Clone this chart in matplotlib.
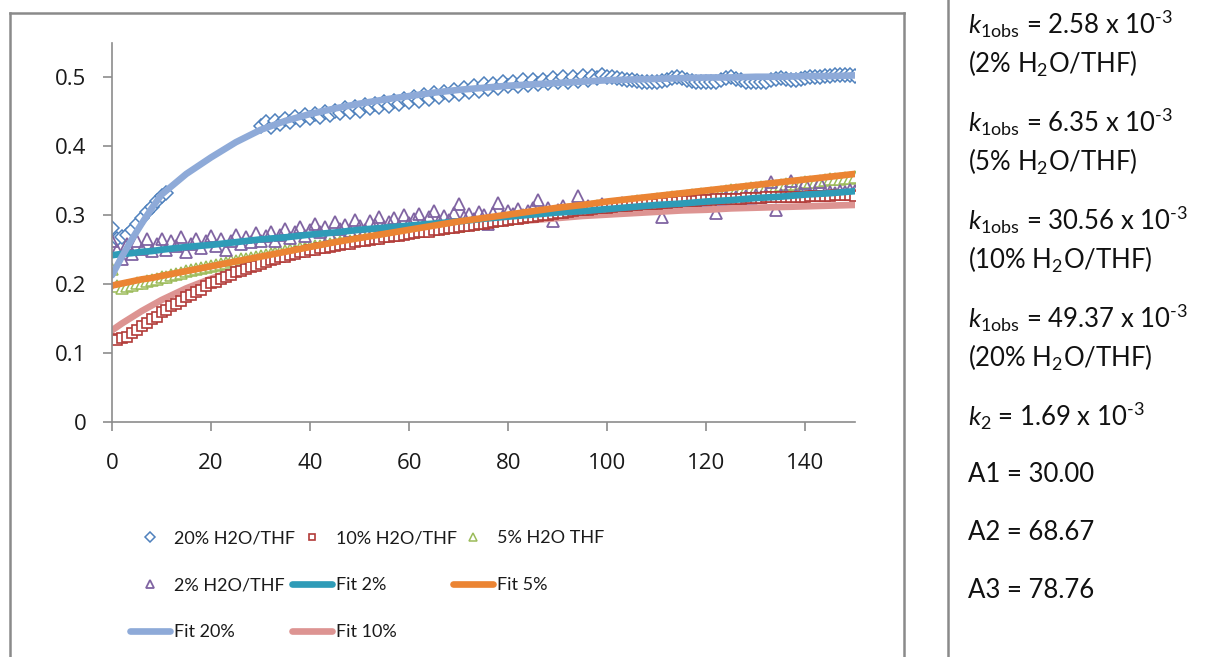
import matplotlib
matplotlib.use("Agg")
import matplotlib.pyplot as plt
from matplotlib.lines import Line2D

# ---------------- data ----------------
x_20 = list(range(0, 12)) + list(range(30, 151))
y_20 = [0.281, 0.266, 0.268, 0.271, 0.279, 0.288, 0.296, 0.305, 0.312, 0.320, 0.328, 0.333,
        0.430, 0.435, 0.428, 0.437, 0.432, 0.440, 0.436, 0.443, 0.438, 0.445, 0.441,
        0.447, 0.443, 0.450, 0.446, 0.452, 0.448, 0.455, 0.450, 0.457, 0.452,
        0.460, 0.455, 0.462, 0.457, 0.465, 0.459, 0.466, 0.461, 0.469, 0.464,
        0.471, 0.466, 0.474, 0.469, 0.477, 0.471, 0.479, 0.474, 0.482, 0.476,
        0.485, 0.479, 0.488, 0.481, 0.490, 0.483, 0.491, 0.485, 0.493, 0.487,
        0.494, 0.488, 0.496, 0.489, 0.497, 0.490, 0.497, 0.492, 0.499, 0.493,
        0.500, 0.494, 0.501, 0.495, 0.502, 0.497, 0.502, 0.499, 0.503, 0.501,
        0.500, 0.499, 0.498, 0.497, 0.496, 0.495, 0.494, 0.494, 0.494, 0.494,
        0.495, 0.497, 0.499, 0.500, 0.499, 0.497, 0.495, 0.494, 0.493, 0.493,
        0.493, 0.494, 0.496, 0.499, 0.500, 0.498, 0.496, 0.494, 0.493, 0.493,
        0.493, 0.494, 0.496, 0.498, 0.499, 0.498, 0.497, 0.497, 0.498, 0.499,
        0.500, 0.501, 0.501, 0.502, 0.502, 0.503, 0.503, 0.503, 0.503, 0.502]

x_all = list(range(0, 151))
y_10 = [0.121, 0.119, 0.122, 0.124, 0.129, 0.133, 0.139, 0.143, 0.149, 0.153, 0.159,
        0.163, 0.168, 0.171, 0.176, 0.181, 0.184, 0.189, 0.192, 0.197, 0.201,
        0.203, 0.207, 0.211, 0.213, 0.217, 0.219, 0.222, 0.225, 0.227, 0.230,
        0.232, 0.235, 0.236, 0.239, 0.240, 0.242, 0.244, 0.246, 0.247, 0.249,
        0.250, 0.252, 0.253, 0.254, 0.256, 0.257, 0.258, 0.259, 0.261, 0.262,
        0.263, 0.264, 0.265, 0.266, 0.268, 0.268, 0.270, 0.270, 0.272, 0.273,
        0.274, 0.275, 0.276, 0.276, 0.278, 0.279, 0.280, 0.281, 0.282, 0.283,
        0.284, 0.285, 0.286, 0.287, 0.288, 0.289, 0.290, 0.291, 0.292, 0.293,
        0.294, 0.295, 0.296, 0.297, 0.298, 0.299, 0.300, 0.301, 0.302, 0.303,
        0.304, 0.305, 0.306, 0.307, 0.308, 0.308, 0.309, 0.310, 0.311, 0.311,
        0.312, 0.313, 0.313, 0.314, 0.315, 0.315, 0.316, 0.316, 0.317, 0.317,
        0.318, 0.318, 0.319, 0.319, 0.320, 0.320, 0.321, 0.321, 0.322, 0.322,
        0.322, 0.323, 0.323, 0.323, 0.324, 0.324, 0.324, 0.325, 0.325, 0.325,
        0.325, 0.326, 0.326, 0.326, 0.326, 0.327, 0.327, 0.327, 0.327, 0.327,
        0.328, 0.328, 0.328, 0.328, 0.328, 0.329, 0.329, 0.329, 0.329, 0.328]
y_5 = [0.222, 0.197, 0.195, 0.198, 0.199, 0.201, 0.202, 0.205, 0.206, 0.208, 0.210,
       0.211, 0.214, 0.215, 0.216, 0.219, 0.220, 0.222, 0.223, 0.225, 0.227,
       0.228, 0.230, 0.231, 0.233, 0.234, 0.236, 0.237, 0.238, 0.240, 0.241,
       0.243, 0.244, 0.245, 0.247, 0.248, 0.249, 0.250, 0.252, 0.253, 0.254,
       0.255, 0.256, 0.258, 0.259, 0.260, 0.261, 0.262, 0.263, 0.264, 0.265,
       0.266, 0.267, 0.268, 0.269, 0.270, 0.271, 0.272, 0.273, 0.274, 0.275,
       0.276, 0.277, 0.278, 0.279, 0.280, 0.281, 0.282, 0.283, 0.284, 0.285,
       0.286, 0.287, 0.288, 0.289, 0.290, 0.291, 0.292, 0.293, 0.294, 0.295,
       0.296, 0.297, 0.298, 0.299, 0.300, 0.301, 0.302, 0.303, 0.304, 0.305,
       0.306, 0.307, 0.308, 0.309, 0.310, 0.311, 0.312, 0.313, 0.313, 0.314,
       0.315, 0.316, 0.317, 0.318, 0.319, 0.320, 0.320, 0.321, 0.322, 0.323,
       0.324, 0.325, 0.326, 0.326, 0.327, 0.328, 0.329, 0.330, 0.331, 0.331,
       0.332, 0.333, 0.334, 0.335, 0.336, 0.336, 0.337, 0.338, 0.339, 0.340,
       0.341, 0.341, 0.342, 0.343, 0.344, 0.345, 0.346, 0.346, 0.347, 0.348,
       0.349, 0.349, 0.350, 0.351, 0.352, 0.352, 0.353, 0.354, 0.354, 0.355]
y_2 = [0.262, 0.250, 0.236, 0.258, 0.244, 0.262, 0.251, 0.265, 0.248, 0.258, 0.266,
       0.250, 0.262, 0.255, 0.268, 0.247, 0.259, 0.266, 0.252, 0.263, 0.270,
       0.256, 0.266, 0.249, 0.262, 0.271, 0.258, 0.268, 0.261, 0.274, 0.262,
       0.270, 0.276, 0.263, 0.272, 0.280, 0.267, 0.276, 0.283, 0.270, 0.279,
       0.287, 0.275, 0.283, 0.272, 0.290, 0.280, 0.286, 0.277, 0.293, 0.284,
       0.278, 0.291, 0.286, 0.298, 0.283, 0.290, 0.296, 0.285, 0.300, 0.289,
       0.295, 0.302, 0.288, 0.297, 0.306, 0.292, 0.299, 0.293, 0.304, 0.317,
       0.298, 0.302, 0.295, 0.305, 0.300, 0.287, 0.303, 0.318, 0.299, 0.306,
       0.302, 0.309, 0.300, 0.306, 0.311, 0.322, 0.305, 0.310, 0.292, 0.308,
       0.313, 0.306, 0.311, 0.328, 0.309, 0.314, 0.307, 0.312, 0.316, 0.310,
       0.315, 0.311, 0.318, 0.313, 0.317, 0.314, 0.319, 0.315, 0.320, 0.316,
       0.297, 0.318, 0.321, 0.317, 0.322, 0.319, 0.323, 0.320, 0.324, 0.321,
       0.325, 0.303, 0.324, 0.326, 0.323, 0.327, 0.324, 0.328, 0.325, 0.329,
       0.327, 0.330, 0.348, 0.307, 0.329, 0.331, 0.350, 0.330, 0.332, 0.347,
       0.331, 0.333, 0.348, 0.332, 0.334, 0.333, 0.335, 0.334, 0.336, 0.335]

x_fit = [0, 2, 4, 6, 8, 10, 15, 20, 25, 30, 35, 40, 45, 50, 55, 60, 65, 70, 75, 80,
         85, 90, 95, 100, 105, 110, 115, 120, 125, 130, 135, 140, 145, 150]
fit_2 = [0.242, 0.244, 0.245, 0.247, 0.248, 0.250, 0.254, 0.257, 0.261, 0.265, 0.268,
         0.272, 0.275, 0.279, 0.282, 0.285, 0.288, 0.291, 0.295, 0.298, 0.301, 0.304,
         0.306, 0.309, 0.312, 0.315, 0.317, 0.320, 0.322, 0.325, 0.327, 0.330, 0.332, 0.335]
fit_5 = [0.198, 0.201, 0.204, 0.207, 0.209, 0.212, 0.219, 0.226, 0.233, 0.240, 0.247,
         0.254, 0.261, 0.267, 0.273, 0.279, 0.285, 0.291, 0.296, 0.301, 0.306, 0.311,
         0.315, 0.320, 0.324, 0.328, 0.332, 0.336, 0.340, 0.344, 0.348, 0.352, 0.356, 0.360]
fit_20 = [0.213, 0.240, 0.265, 0.288, 0.310, 0.330, 0.360, 0.384, 0.406, 0.424, 0.437,
          0.447, 0.455, 0.462, 0.468, 0.473, 0.478, 0.482, 0.485, 0.488, 0.490, 0.492,
          0.494, 0.496, 0.497, 0.498, 0.499, 0.500, 0.500, 0.501, 0.501, 0.502, 0.502, 0.503]
fit_10 = [0.133, 0.143, 0.152, 0.161, 0.169, 0.177, 0.194, 0.208, 0.220, 0.230, 0.239,
          0.247, 0.254, 0.261, 0.267, 0.272, 0.277, 0.282, 0.286, 0.290, 0.293, 0.296,
          0.299, 0.301, 0.303, 0.305, 0.307, 0.308, 0.310, 0.311, 0.312, 0.313, 0.314, 0.315]

x_ticks = [0, 20, 40, 60, 80, 100, 120, 140]
y_ticks = [0, 0.1, 0.2, 0.3, 0.4, 0.5]
y_tick_labels = ["0", "0.1", "0.2", "0.3", "0.4", "0.5"]

panel_lines = [
    r"$\mathit{k}_{\mathrm{1obs}}$ = 2.58 x 10$^{\text{-3}}$",
    r"(2% H$_{\mathrm{2}}$O/THF)",
    r"$\mathit{k}_{\mathrm{1obs}}$ = 6.35 x 10$^{\text{-3}}$",
    r"(5% H$_{\mathrm{2}}$O/THF)",
    r"$\mathit{k}_{\mathrm{1obs}}$ = 30.56 x 10$^{\text{-3}}$",
    r"(10% H$_{\mathrm{2}}$O/THF)",
    r"$\mathit{k}_{\mathrm{1obs}}$ = 49.37 x 10$^{\text{-3}}$",
    r"(20% H$_{\mathrm{2}}$O/THF)",
    r"$\mathit{k}_{\mathrm{2}}$ = 1.69 x 10$^{\text{-3}}$",
    "A1 = 30.00",
    "A2 = 68.67",
    "A3 = 78.76",
]
panel_y_px = [24, 64, 122, 162, 220, 260, 318, 358, 416, 475, 533, 590]

# ---------------- style ----------------
plt.rcParams['mathtext.fontset'] = 'custom'
plt.rcParams['mathtext.rm'] = 'Lato'
plt.rcParams['mathtext.it'] = 'Lato:italic'
plt.rcParams['mathtext.default'] = 'rm'

W, H = 1222, 657
fig = plt.figure(figsize=(W / 100, H / 100), dpi=100)
ax = fig.add_axes([112 / W, 1 - 422 / H, (855 - 112) / W, (422 - 43) / H])

c20, c10, c5, c2 = '#4F81BD', '#B23B38', '#9BBB59', '#8064A2'
cf2, cf5, cf20, cf10 = '#2E9BB7', '#EB8433', '#8EAAD8', '#DD9492'

h20, = ax.plot(x_20, y_20, ls='none', marker='D', ms=7, mfc='white', mec=c20, mew=1.1,
               label='20% H2O/THF', zorder=1.9)
h5, = ax.plot(x_all, y_5, ls='none', marker='^', ms=8, mfc='white', mec=c5, mew=1.1,
              label='5% H2O THF', zorder=1.9)
h2, = ax.plot(x_all, y_2, ls='none', marker='^', ms=9, mfc='none', mec=c2, mew=1.3,
              label='2% H2O/THF', zorder=1.9)
lw = 4.8
hf10, = ax.plot(x_fit, fit_10, color=cf10, lw=lw, solid_capstyle='round', label='Fit 10%',
                zorder=2.0)
h10, = ax.plot(x_all, y_10, ls='none', marker='s', ms=7, mfc='white', mec=c10, mew=1.2,
               label='10% H2O/THF', zorder=2.1)
hf2, = ax.plot(x_fit, fit_2, color=cf2, lw=lw, solid_capstyle='round', label='Fit 2%',
               zorder=2.2)
hf5, = ax.plot(x_fit, fit_5, color=cf5, lw=lw, solid_capstyle='round', label='Fit 5%',
               zorder=2.2)
hf20, = ax.plot(x_fit, fit_20, color=cf20, lw=lw, solid_capstyle='round', label='Fit 20%',
                zorder=2.2)

ax.set_xlim(0, 150)
ax.set_ylim(0, 0.55)
ax.set_xticks(x_ticks)
ax.set_xticklabels([str(v) for v in x_ticks])
ax.set_yticks(y_ticks)
ax.set_yticklabels(y_tick_labels)
for s in ['top', 'right']:
    ax.spines[s].set_visible(False)
for s in ['left', 'bottom']:
    ax.spines[s].set_color('#8C8C8C')
    ax.spines[s].set_linewidth(1.2)
ax.tick_params(axis='both', direction='out', length=6.5, width=1.2, color='#8C8C8C',
               labelsize=16, labelcolor='#1A1A1A')
ax.tick_params(axis='y', pad=12)
ax.tick_params(axis='x', pad=16)
for lab in ax.get_xticklabels() + ax.get_yticklabels():
    lab.set_fontfamily('Open Sans')

# legend: three single-column legends placed like the original rows/columns
cols = [([h20, h2, hf20], 130), ([h10, hf2, hf10], 292), ([h5, hf5], 453)]
for hs, xpx in cols:
    lg = fig.legend(handles=hs, labels=[h.get_label() for h in hs], ncol=1,
                    loc='upper left', bbox_to_anchor=(xpx / W, 1 - 530 / H),
                    frameon=False, prop={'family': 'Lato', 'size': 13},
                    handlelength=2.2, handletextpad=0.22, labelspacing=1.72,
                    markerscale=0.7, borderaxespad=0, borderpad=0)
    for t in lg.get_texts():
        t.set_color('#1A1A1A')

# frames
gray = '#8A8A8A'
fx = lambda p: p / W
fy = lambda p: 1 - p / H
fig.add_artist(Line2D([fx(10), fx(10)], [0, fy(13)], color=gray, lw=1.8))
fig.add_artist(Line2D([fx(10), fx(904)], [fy(13), fy(13)], color=gray, lw=1.8))
fig.add_artist(Line2D([fx(904), fx(904)], [fy(13), 0], color=gray, lw=1.8))
fig.add_artist(Line2D([fx(948), fx(948)], [1, 0], color=gray, lw=1.8))

# text panel
for txt, yp in zip(panel_lines, panel_y_px):
    fig.text(fx(968), fy(yp), txt, ha='left', va='center', fontsize=18.5,
             family='Lato', color='#111111')

fig.savefig('out.png', dpi=100, facecolor='white')
